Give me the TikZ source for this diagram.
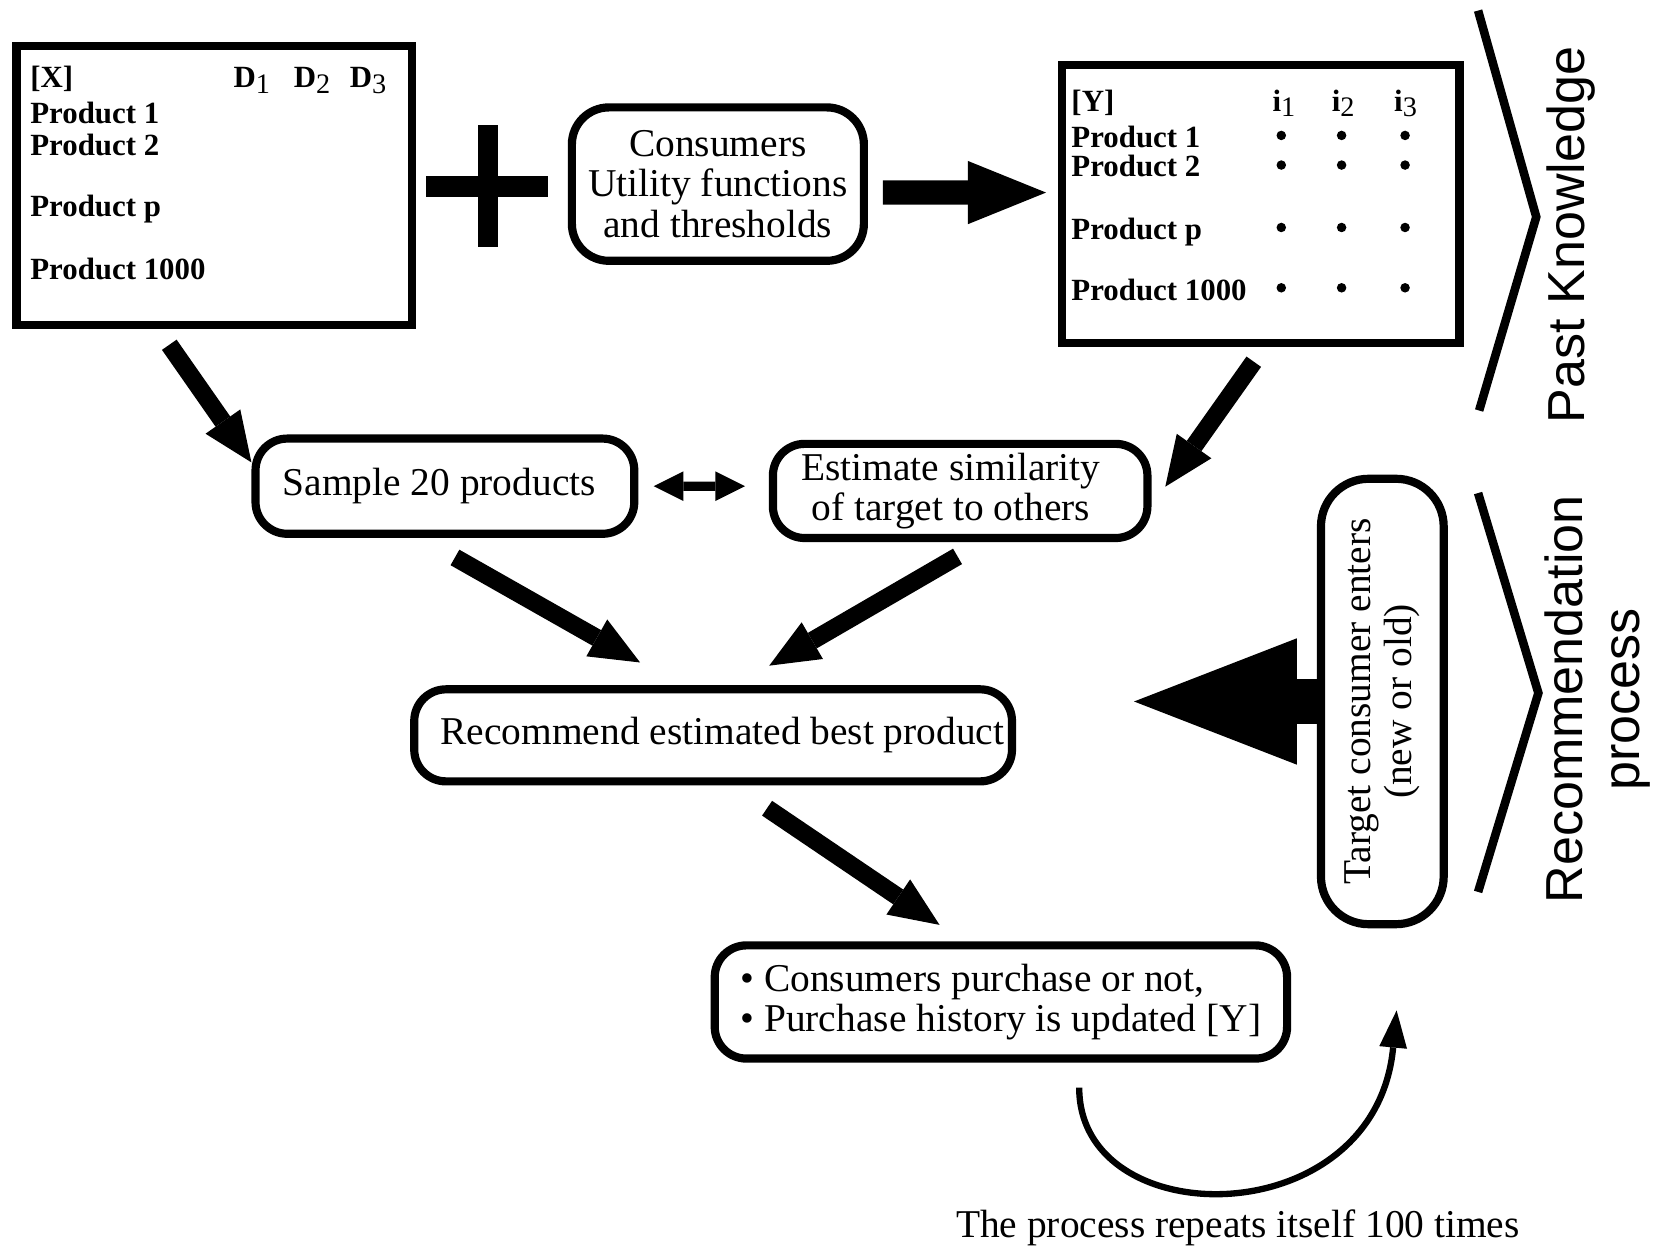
\documentclass[tikz,border=0pt]{standalone}
\usepackage{fontspec}
\setmainfont{Liberation Serif}
\setsansfont{Liberation Sans}
\usetikzlibrary{arrows.meta,calc}

\newcommand{\colsub}[1]{\raisebox{-0.4ex}{\mdseries\fontsize{7.6}{8}\selectfont #1}}

\tikzset{
  datatable/.style={draw, line width=2.2pt, inner sep=0pt},
  tabtext/.style={anchor=base west, inner sep=0pt, font=\fontsize{8.3}{9}\selectfont\bfseries},
  process/.style={draw, line width=2.2pt, rounded corners=0.3cm, inner sep=0pt, align=center,
    font=\fontsize{10.6}{10.8}\selectfont},
  sidetext/.style={inner sep=0pt, align=center, font=\fontsize{14}{15.4}\selectfont\sffamily},
  bigarrow/.style={line width=4.8pt, -{Triangle[length=13.4pt,width=11.4pt,line width=0pt]}},
  widearrow/.style={line width=6.5pt, -{Triangle[length=21pt,width=17pt,line width=0pt]}},
  hugearrow/.style={line width=12.2pt, -{Triangle[length=43.8pt,width=34pt,line width=0pt]}},
  linkarrow/.style={line width=2.5pt, {Triangle[length=8pt,width=8pt,line width=0pt]}-{Triangle[length=8pt,width=8pt,line width=0pt]}},
  looparrow/.style={line width=1.7pt, -{Triangle[length=10pt,width=7.5pt,line width=0pt]}}
}

\begin{document}
\begin{tikzpicture}[x=0.1cm,y=0.1cm]
\useasboundingbox (0,0) rectangle (156.8,-118.0);
% product attributes
\node [datatable, minimum width=3.74cm, minimum height=2.64cm] (tabx) at (20.25,-17.55) {};
\node [tabtext] (xhead) at (2.8,-8.3) {[X]};
\node [tabtext] (xd1) at (22.0,-8.3) {D\colsub{1}};
\node [tabtext] (xd2) at (27.7,-8.3) {D\colsub{2}};
\node [tabtext] (xd3) at (33.0,-8.3) {D\colsub{3}};
\node [tabtext] (xp1) at (2.8,-11.7) {Product 1};
\node [tabtext] (xp2) at (2.8,-14.7) {Product 2};
\node [tabtext] (xpp) at (2.8,-20.5) {Product p};
\node [tabtext] (xpk) at (2.8,-26.4) {Product 1000};
% plus sign
\fill [black] (40.3,-16.6) rectangle (51.8,-18.6);
\fill [black] (45.2,-11.8) rectangle (47.1,-23.3);
\node [process, rounded corners=0.35cm, minimum width=2.76cm, minimum height=1.45cm] (consumers) at (67.85,-17.4) {Consumers\\Utility functions\\and thresholds};
% purchase history
\node [datatable, minimum width=3.76cm, minimum height=2.63cm] (taby) at (119.15,-19.3) {};
\node [tabtext] (yhead) at (101.2,-10.5) {[Y]};
\node [tabtext] (yi1) at (120.2,-10.5) {i\colsub{1}};
\node [tabtext] (yi2) at (125.8,-10.5) {i\colsub{2}};
\node [tabtext] (yi3) at (131.7,-10.5) {i\colsub{3}};
\node [tabtext] (yp1) at (101.2,-13.9) {Product 1};
\node [tabtext] (yp2) at (101.2,-16.7) {Product 2};
\node [tabtext] (ypp) at (101.2,-22.6) {Product p};
\node [tabtext] (ypk) at (101.2,-28.4) {Product 1000};
\fill [black] (121.1,-12.8) circle (0.45);
\fill [black] (126.8,-12.8) circle (0.45);
\fill [black] (132.8,-12.8) circle (0.45);
\fill [black] (121.1,-15.6) circle (0.45);
\fill [black] (126.8,-15.6) circle (0.45);
\fill [black] (132.8,-15.6) circle (0.45);
\fill [black] (121.1,-21.5) circle (0.45);
\fill [black] (126.8,-21.5) circle (0.45);
\fill [black] (132.8,-21.5) circle (0.45);
\fill [black] (121.1,-27.2) circle (0.45);
\fill [black] (126.8,-27.2) circle (0.45);
\fill [black] (132.8,-27.2) circle (0.45);
% brackets on the right
\draw [black, line width=2.3pt] (139.7,-1.0) -- (145.2,-20.5) -- (139.8,-38.8);
\draw [black, line width=2.3pt] (139.7,-46.6) -- (145.4,-65.5) -- (139.7,-84.3);
\node [sidetext, rotate=90] (pastlabel) at (148.5,-22.2) {Past Knowledge};
\node [sidetext, rotate=90] (reclabel) at (151.0,-66.1) {Recommendation\\process};
% recommendation steps
\node [process, minimum width=3.58cm, minimum height=0.90cm] (sample) at (42.05,-45.95) {Sample 20 products\hspace*{3pt}};
\node [process, minimum width=3.54cm, minimum height=0.89cm] (estimate) at (90.75,-46.4) {Estimate similarity\hspace*{5pt}\\of target to others\hspace*{5pt}};
\node [process, minimum width=5.65cm, minimum height=0.87cm] (recommend) at (67.4,-69.5) {\hspace*{5pt}Recommend estimated best product};
\node [process, align=left, minimum width=5.41cm, minimum height=1.07cm] (purchase) at (94.6,-94.7) {\textbullet{} Consumers purchase or not,\\\textbullet{} Purchase history is updated [Y]};
\node [process, rounded corners=0.45cm, rotate=90, minimum width=4.21cm, minimum height=1.16cm] (target) at (130.65,-66.3) {Target consumer enters\\(new or old)};
\node [process, draw=none] (repeatlabel) at (117.0,-116.0) {The process repeats itself 100 times};
% connectors
\draw [widearrow] ($(consumers.east)+(1.4,-0.8)$) -- ($(taby.west)+(-1.1,1.1)$);
\draw [bigarrow] ($(tabx.south)+(-4.25,-1.45)$) -- (sample.173);
\draw [bigarrow] ($(taby.south)+(-0.65,-1.35)$) -- ($(estimate.east)+(1.3,0.4)$);
\draw [linkarrow] ($(sample.east)+(1.45,0)$) -- ($(estimate.west)+(-2.25,0.45)$);
\draw [bigarrow] ($(sample.south)+(0.95,-1.85)$) -- ($(recommend.north)+(-6.9,2.15)$);
\draw [bigarrow] ($(estimate.south)+(-0.25,-1.35)$) -- ($(recommend.north)+(5.3,1.85)$);
\draw [hugearrow] (target.north) -- ($(recommend.east)+(11.15,3.2)$);
\draw [bigarrow] ($(recommend.south)+(5.1,-2.15)$) -- ($(purchase.north)+(-5.8,1.55)$);
\coordinate (loopstart) at (102.0,-102.8);
\coordinate (loopend) at (132.0,-95.5);
\draw [looparrow] (loopstart) .. controls (102.0,-116.8) and (130.0,-116.8) .. (loopend);
\end{tikzpicture}
\end{document}
